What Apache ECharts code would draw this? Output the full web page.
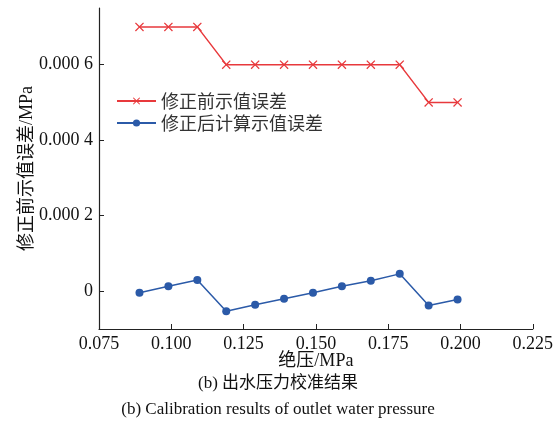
<!DOCTYPE html>
<html>
<head>
<meta charset="utf-8">
<script src="https://cdn.jsdelivr.net/npm/echarts@6/dist/echarts.min.js"></script>
<style>html,body{margin:0;padding:0;background:#fff;}#c{width:556px;height:421px;}</style>
</head>
<body>
<div id="c"></div>
<script>
const pressure = [0.089, 0.099, 0.109, 0.119, 0.129, 0.139, 0.149, 0.159, 0.169, 0.179, 0.189, 0.199];
const errBefore = [0.0007, 0.0007, 0.0007, 0.0006, 0.0006, 0.0006, 0.0006, 0.0006, 0.0006, 0.0006, 0.0005, 0.0005];
const errAfter = [-0.000004, 0.000013, 0.00003, -0.000053, -0.000036, -0.00002, -0.000004, 0.000013, 0.000028, 0.000046, -0.000038, -0.000022];
const xTicks = [0.075, 0.100, 0.125, 0.150, 0.175, 0.200, 0.225];
const yTicks = [0, 0.0002, 0.0004, 0.0006];
const seriesNames = ['修正前示值误差', '修正后计算示值误差'];
const xName = '绝压/MPa';
const yName = '修正前示值误差/MPa';
const captionCn = '(b) 出水压力校准结果';
const captionEn = '(b) Calibration results of outlet water pressure';

const RED = '#e8393c';
const BLUE = '#2b5aa8';
const FONT = '"Liberation Serif", "Noto Sans CJK SC", serif';
const crossPath = 'path://M0,1L1,0L5,4L9,0L10,1L6,5L10,9L9,10L5,6L1,10L0,9L4,5Z';

const chart = echarts.init(document.getElementById('c'), null, {renderer: 'canvas'});
chart.setOption({
  backgroundColor: '#fff',
  animation: false,
  grid: {left: 99, right: 23, top: 8, bottom: 92, containLabel: false},
  title: [
    {text: captionCn, left: 'center', top: 370, textStyle: {fontFamily: FONT, fontSize: 17, fontWeight: 'normal', color: '#111'}},
    {text: captionEn, left: 'center', top: 396, textStyle: {fontFamily: FONT, fontSize: 17, fontWeight: 'normal', color: '#111'}}
  ],
  legend: {
    orient: 'vertical', left: 111, top: 87, itemWidth: 39, itemHeight: 9, itemGap: 4,
    textStyle: {fontFamily: '"Noto Sans CJK SC", sans-serif', fontSize: 18, lineHeight: 18, color: '#333'},
    data: seriesNames
  },
  xAxis: {
    type: 'value', min: 0.075, max: 0.225,
    name: xName, nameLocation: 'middle', nameGap: 23, nameMoveOverlap: false,
    nameTextStyle: {fontFamily: FONT, fontSize: 18, color: '#111'},
    axisLine: {onZero: false, lineStyle: {color: '#222', width: 1.2}},
    axisTick: {inside: true, length: 5, customValues: xTicks, lineStyle: {color: '#222'}},
    axisLabel: {customValues: xTicks, margin: 6, fontFamily: FONT, fontSize: 18, color: '#111', formatter: v => v.toFixed(3)},
    splitLine: {show: false}
  },
  yAxis: {
    type: 'value', min: -0.0001, max: 0.00075,
    name: yName, nameLocation: 'middle', nameGap: 63, nameRotate: 90, nameMoveOverlap: false,
    nameTextStyle: {fontFamily: FONT, fontSize: 18, color: '#111'},
    axisLine: {show: true, onZero: false, lineStyle: {color: '#222', width: 1.2}},
    axisTick: {show: true, inside: true, length: 5, customValues: yTicks, lineStyle: {color: '#222'}},
    axisLabel: {customValues: yTicks, margin: 6, fontFamily: FONT, fontSize: 18, color: '#111',
      formatter: v => Math.abs(v) < 1e-12 ? '0' : (v.toFixed(4).slice(0, 5) + ' ' + v.toFixed(4).slice(5))},
    splitLine: {show: false}
  },
  series: [
    {
      name: seriesNames[0], type: 'line', data: pressure.map((x, i) => [x, errBefore[i]]),
      symbol: crossPath, symbolSize: 9, showAllSymbol: true,
      lineStyle: {color: RED, width: 1.5}, itemStyle: {color: RED}
    },
    {
      name: seriesNames[1], type: 'line', data: pressure.map((x, i) => [x, errAfter[i]]),
      symbol: 'circle', symbolSize: 8, showAllSymbol: true,
      lineStyle: {color: BLUE, width: 1.5}, itemStyle: {color: BLUE}
    }
  ]
});
</script>
</body>
</html>
